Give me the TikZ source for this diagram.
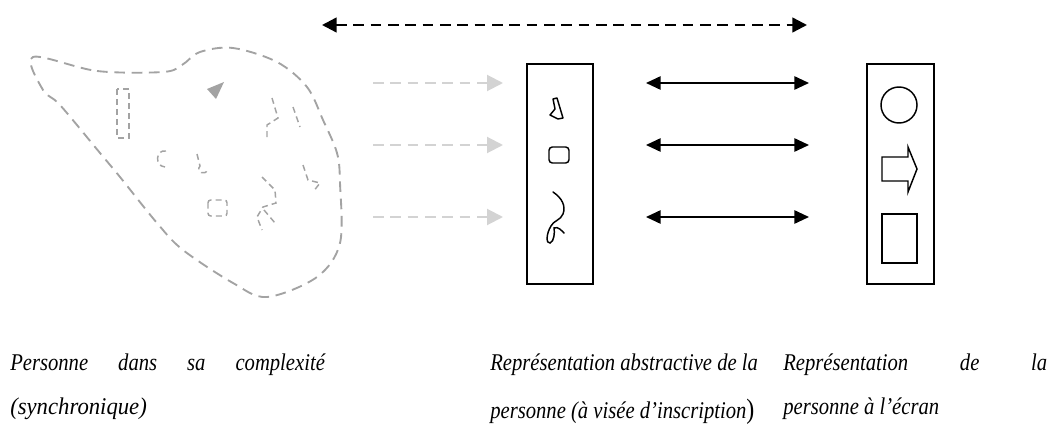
\documentclass[tikz,border=0pt]{standalone}
\usepackage{fontspec}
\setmainfont{Liberation Serif}
\newfontfamily\capfont[FakeStretch=0.86]{Liberation Serif}
\usetikzlibrary{arrows.meta}
\definecolor{blobgrey}{HTML}{A3A3A3}
\definecolor{lightgrey}{HTML}{D3D3D3}
\tikzset{
  blob/.style={draw=blobgrey, line width=1.4pt, dash pattern=on 8pt off 5pt},
  smallblob/.style={draw=blobgrey, line width=1.1pt, dash pattern=on 4.5pt off 3pt},
  greyarrow/.style={draw=lightgrey, line width=1.5pt, dash pattern=on 8pt off 5pt,
     -{Triangle[length=12pt,width=12pt,fill=lightgrey]}},
  blackarrow/.style={draw=black, line width=1.3pt,
     {Triangle[length=11pt,width=10pt]}-{Triangle[length=11pt,width=10pt]}},
  toparrow/.style={draw=black, line width=1.8pt, dash pattern=on 8pt off 5pt,
     {Triangle[length=11pt,width=11pt]}-{Triangle[length=11pt,width=11pt]}},
  panel/.style={draw=black, line width=1.2pt, inner sep=0pt},
  glyph/.style={draw=black, line width=1.1pt},
  caption/.style={anchor=base west, inner sep=0pt, font=\capfont\fontsize{18}{21}\selectfont\itshape},
}
\begin{document}
\begin{tikzpicture}[x=0.75pt, y=-0.75pt]
\useasboundingbox (0,0) rectangle (1056,424);

% panels
\node[panel, minimum width=66*0.75pt, minimum height=220*0.75pt, anchor=north west] (abs) at (526,63) {};
\node[panel, minimum width=67*0.75pt, minimum height=220*0.75pt, anchor=north west] (scr) at (866,63) {};

% top dashed arrow
\coordinate (tl) at (322,25);
\coordinate (tr) at (807,25);
\draw[toparrow] (tl) -- (tr);

% blob outline
\draw[blob] plot[smooth cycle, tension=0.55] coordinates {
 (33,57) (97,71) (163,72) (182,65) (200,52) (233,48) (277,62) (307,87) (323,120)
 (337,153) (340,183) (340,243) (317,277) (267,297) (233,283) (183,250) (157,223)
 (120,177) (100,153) (60,105) (43,90)};
% grey arrowhead inside blob
\coordinate (gtip) at (224,82);
\fill[blobgrey] (gtip) -- (207,89) -- (216,99) -- cycle;
% small dashed shapes in blob
\draw[smallblob] (117,89) rectangle (129,138);
\draw[smallblob] (166,151) .. controls (156,149) and (154,166) .. (165,167);
\draw[smallblob] (197,154) -- (200,166) .. controls (195,172) and (206,176) .. (207,170);
\draw[smallblob, rounded corners=2pt] (208,200) rectangle (227,216);
\draw[smallblob] (272,98) -- (278,118) -- (267,125) -- (267,138);
\draw[smallblob] (293,107) -- (300,127);
\draw[smallblob] (303,165) -- (308,180) -- (320,183) -- (313,192);
\draw[smallblob] (262,177) -- (275,190) -- (276,203) -- (263,207) -- (257,217) -- (262,230);
\draw[smallblob] (264,210) -- (275,223);

% grey dashed arrows
\foreach \y/\n in {83/1,145/2,217/3}{
  \coordinate (gs\n) at (373,\y);
  \coordinate (ge\n) at (503,\y);
  \draw[greyarrow] (gs\n) -- (ge\n);
}

% black double arrows
\foreach \y/\n in {83/1,145/2,217/3}{
  \coordinate (bs\n) at (646,\y);
  \coordinate (be\n) at (809,\y);
  \draw[blackarrow] (bs\n) -- (be\n);
}

% glyphs in abstract panel
\draw[glyph, line join=round] (553,99) -- (557,98) -- (563,118) -- (558,119) -- (550,115) -- (555,109) -- cycle;
\draw[glyph, rounded corners=2.5pt] (549,147) rectangle (569,163);
\draw[glyph, line cap=round] (553,192) .. controls (562,198) and (566,206) .. (563,214)
  .. controls (561,220) and (553,221) .. (551,226)
  .. controls (546,234) and (546,244) .. (550,243)
  .. controls (554,242) and (555,232) .. (554,228)
  .. controls (558,226) and (562,231) .. (564,233);

% glyphs in screen panel
\draw[glyph] (899,105) circle (18);
\draw[glyph, line join=miter] (882,157) -- (908,157) -- (908,147) -- (917,169) -- (908,192) -- (908,181) -- (882,181) -- cycle;
\draw[glyph] (882,214) rectangle (917,263);

% captions
\node[caption] (c1a) at (10,370) {\makebox[236pt][s]{Personne dans sa complexité}};
\node[caption] (c1b) at (10,414) {\scalebox{1.1}[1]{(synchronique)}};
\node[caption] (c2a) at (490,370) {Représentation abstractive de la};
\node[caption] (c2b) at (490,418) {personne (à visée d’inscription{\fontsize{21}{21}\selectfont\upshape )}};
\node[caption] (c3a) at (783,370) {\makebox[198pt][s]{Représentation de la}};
\node[caption] (c3b) at (783,414) {personne à l’écran};
\end{tikzpicture}
\end{document}
